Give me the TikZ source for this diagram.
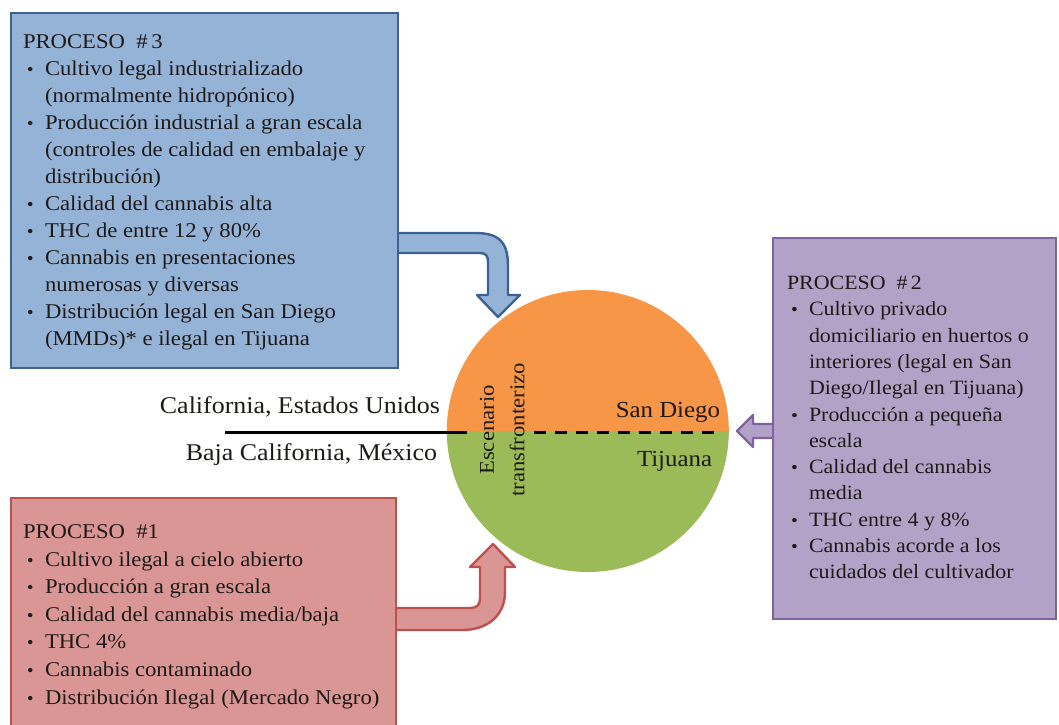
\documentclass[tikz,border=0pt]{standalone}
\usepackage{fontspec}
\setmainfont[FakeStretch=1.08]{Liberation Serif}
\definecolor{bfill}{HTML}{95B3D7}
\definecolor{bline}{HTML}{3D6194}
\definecolor{rfill}{HTML}{D99694}
\definecolor{rline}{HTML}{C0504D}
\definecolor{pfill}{HTML}{B3A2C7}
\definecolor{pline}{HTML}{7F63A1}
\definecolor{corange}{HTML}{F79646}
\definecolor{cgreen}{HTML}{9BBB59}
\definecolor{ink}{HTML}{1E1A18}
\newenvironment{blist}{\begin{list}{\raisebox{0pt}{\fontsize{18}{18}\selectfont\textbullet}\hfill}{%
  \setlength{\leftmargin}{22pt}\setlength{\labelwidth}{18pt}\setlength{\labelsep}{0pt}%
  \setlength{\itemsep}{0pt}\setlength{\parsep}{0pt}\setlength{\topsep}{0pt}%
  \setlength{\partopsep}{0pt}\setlength{\itemindent}{0pt}}}{\end{list}}
\begin{document}
\begin{tikzpicture}[x=1pt,y=-1pt,
  box/.style={rectangle, line width=2.6pt, inner sep=0pt, outer sep=0pt},
  arr/.style={line width=2.4pt, line join=round},
  txt/.style={inner sep=0pt, outer sep=0pt, text=ink, anchor=base west},
  lbl/.style={inner sep=0pt, outer sep=0pt, text=ink, anchor=base east, font=\fontsize{24}{28}\selectfont}]
\useasboundingbox (0,0) rectangle (1059,724);

% arrows (drawn first, boxes cover their start)
\draw[arr, fill=bfill, draw=bline] (392,233) -- (475,233) .. controls (499,233) and (508,242) .. (508,266)
  -- (508,295) -- (520,295) -- (498,317) -- (477,295) -- (488,295) -- (488,262)
  .. controls (488,256) and (486,253) .. (480,253) -- (392,253);
\draw[arr, fill=rfill, draw=rline] (390,608) -- (470,608) .. controls (477,608) and (480,605) .. (480,598)
  -- (480,567) -- (470,567) -- (493,544) -- (515,567) -- (505,567) -- (505,592)
  .. controls (505,615) and (488,630) .. (462,630) -- (390,630);
\draw[arr, fill=pfill, draw=pline] (780,424) -- (753,424) -- (753,415) -- (737,431) -- (753,447)
  -- (753,438) -- (780,438);

% boxes
\node[box, fill=bfill, draw=bline, minimum width=387pt, minimum height=355pt] (p3) at (204.5,190.5) {};
\node[box, fill=pfill, draw=pline, minimum width=283pt, minimum height=381pt] (p2) at (914.5,428.5) {};
\node[box, fill=rfill, draw=rline, minimum width=385pt, minimum height=229pt] (p1) at (203.5,612.5) {};

% circle
\node[circle, minimum size=282pt, inner sep=0pt] (circ) at (588,431) {};
\fill[corange] (circ.west) arc[start angle=180, end angle=0, radius=141pt] -- cycle;
\fill[cgreen] (circ.west) arc[start angle=180, end angle=360, radius=141pt] -- cycle;

% border lines
\coordinate (la) at (225,432);
\coordinate (lb) at (467,432);
\coordinate (lc) at (534,432);
\coordinate (ld) at (722,432);
\draw[line width=3pt] (la) -- (lb);
\draw[line width=3pt, dash pattern=on 12pt off 9pt] (lc) -- (ld);

% circle labels
\node[lbl, font=\fontsize{23}{28}\selectfont] (sd) at (720,417) {San Diego};
\node[lbl, font=\fontsize{23}{28}\selectfont] (tj) at (712,466) {Tijuana};
\node[inner sep=0pt, text=ink, rotate=90, font=\fontsize{21}{24}\selectfont] (esc) at (487,430) {Escenario};
\node[inner sep=0pt, text=ink, rotate=90, font=\fontsize{21}{24}\selectfont] (trf) at (517,430) {transfronterizo};

\node[lbl] (cal) at (440,413) {California, Estados Unidos};
\node[lbl] (baja) at (437,460) {Baja California, México};

% box texts
\node[txt] (t3) at (23,48.5) {\fontsize{21}{27}\selectfont
\begin{minipage}[t]{420pt}\raggedright
PROCESO~~\#\,3
\begin{blist}
\item Cultivo legal industrializado\\(normalmente hidropónico)
\item Producción industrial a gran escala\\(controles de calidad en embalaje y\\distribución)
\item Calidad del cannabis alta
\item THC de entre 12 y 80\%
\item Cannabis en presentaciones\\numerosas y diversas
\item Distribución legal en San Diego\\(MMDs)* e ilegal en Tijuana
\end{blist}
\end{minipage}};

\node[txt] (t2) at (787,289.5) {\fontsize{20.3}{26.3}\selectfont
\begin{minipage}[t]{300pt}\raggedright
PROCESO~~\#\,2
\begin{blist}
\item Cultivo privado\\domiciliario en huertos o\\interiores (legal en San\\Diego/Ilegal en Tijuana)
\item Producción a pequeña\\escala
\item Calidad del cannabis\\media
\item THC entre 4 y 8\%
\item Cannabis acorde a los\\cuidados del cultivador
\end{blist}
\end{minipage}};

\node[txt] (t1) at (23,538.5) {\fontsize{21}{27.6}\selectfont
\begin{minipage}[t]{420pt}\raggedright
PROCESO~~\#1
\begin{blist}
\item Cultivo ilegal a cielo abierto
\item Producción a gran escala
\item Calidad del cannabis media/baja
\item THC 4\%
\item Cannabis contaminado
\item Distribución Ilegal (Mercado Negro)
\end{blist}
\end{minipage}};
\end{tikzpicture}
\end{document}
